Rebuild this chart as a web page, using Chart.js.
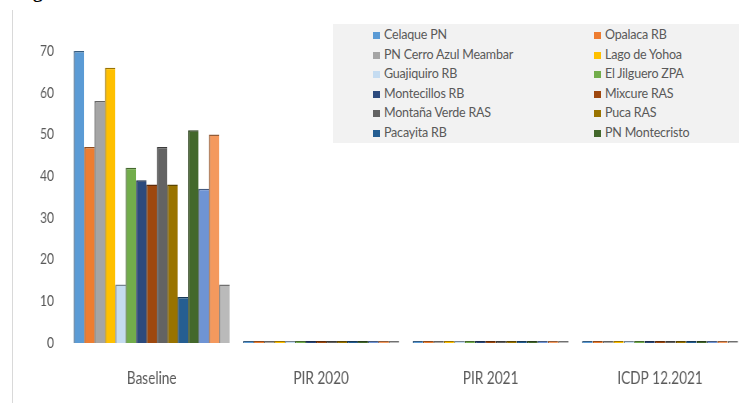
<!DOCTYPE html>
<html>
<head>
<meta charset="utf-8">
<script src="https://cdn.jsdelivr.net/npm/chart.js@4/dist/chart.umd.min.js"></script>
<style>
  html, body { margin: 0; padding: 0; background: #fff; overflow: hidden; }
  #wrap { position: relative; width: 739px; height: 403px; overflow: hidden; }
  #caption {
    position: absolute; left: 33px; top: -19px;
    font: bold 19px "Liberation Serif", serif; color: #000; white-space: nowrap;
  }
  #frame { position: absolute; left: 12px; top: 10px; width: 1px; height: 400px; background: #d9d9d9; }
  /* the picture is squeezed sideways, so the chart is drawn wider and scaled */
  #chartBox {
    position: absolute; left: -4px; top: 0; width: 936px; height: 403px;
    transform: scaleX(0.8); transform-origin: 0 0;
  }
  #legend {
    position: absolute; left: 333px; top: 24px; width: 420px; height: 119px;
    background: #f2f2f2;
  }
  .lg-item {
    position: absolute; font: 12.5px Lato, sans-serif; letter-spacing: -0.2px;
    color: #595959; white-space: nowrap; line-height: 16px;
  }
  .lg-item span { display: inline-block; width: 7px; height: 7px; margin-right: 4px; vertical-align: 0px; }
</style>
</head>
<body>
<div id="wrap">
  <div id="caption">gure 8: Data base with indicators</div>
  <div id="frame"></div>
  <div id="chartBox"><canvas id="chart"></canvas></div>
  <div id="legend"></div>
</div>
<script>
// ============================
// DATA
// ============================
const categories = ["Baseline", "PIR 2020", "PIR 2021", "ICDP 12.2021"];

const seriesNames = [
    "Celaque PN", "Opalaca RB", "PN Cerro Azul Meambar", "Lago de Yohoa",
    "Guajiquiro RB", "El Jilguero ZPA", "Montecillos RB", "Mixcure RAS",
    "Montaña Verde RAS", "Puca RAS", "Pacayita RB", "PN Montecristo",
    "Series 13", "Series 14", "Series 15"
];

// one value per category (Baseline, PIR 2020, PIR 2021, ICDP 12.2021)
const celaque      = [70, 0, 0, 0];
const opalaca      = [47, 0, 0, 0];
const cerroAzul    = [58, 0, 0, 0];
const lagoYohoa    = [66, 0, 0, 0];
const guajiquiro   = [14, 0, 0, 0];
const jilguero     = [42, 0, 0, 0];
const montecillos  = [39, 0, 0, 0];
const mixcure      = [38, 0, 0, 0];
const montanaVerde = [47, 0, 0, 0];
const puca         = [38, 0, 0, 0];
const pacayita     = [11, 0, 0, 0];
const montecristo  = [51, 0, 0, 0];
const series13     = [37, 0, 0, 0];
const series14     = [50, 0, 0, 0];
const series15     = [14, 0, 0, 0];

const yTicks = [0, 10, 20, 30, 40, 50, 60, 70];

const seriesValues = [
    celaque, opalaca, cerroAzul, lagoYohoa, guajiquiro, jilguero, montecillos,
    mixcure, montanaVerde, puca, pacayita, montecristo, series13, series14, series15
];

const colors = [
    "#5b9bd5", "#ed7d31", "#a5a5a5", "#ffc000", "#c5dcf1", "#72ad4b",
    "#2c4a7d", "#9e480e", "#636363", "#997300", "#255e91", "#43682b",
    "#6f94d4", "#f4995e", "#bababa"
];

// legend in the picture only shows the first 12 entries
const legendCount = 12;

// horizontal squeeze applied to the chart box (see css)
const squeeze = 0.8;

// darker shade for the bevelled top/left edge of each bar
function shade(hex, f) {
    const n = parseInt(hex.slice(1), 16);
    const r = Math.round(((n >> 16) & 255) * f);
    const g = Math.round(((n >> 8) & 255) * f);
    const b = Math.round((n & 255) * f);
    return "rgb(" + r + "," + g + "," + b + ")";
}

document.addEventListener("DOMContentLoaded", () => {

    // ============================
    // BAR CHART
    // ============================
    const datasets = seriesValues.map((vals, i) => ({
        label: seriesNames[i],
        data: vals,
        backgroundColor: colors[i],
        borderColor: shade(colors[i], 0.6),
        borderWidth: { top: 1.5, left: 1.5, right: 0, bottom: 0 },
        borderSkipped: false,
        minBarLength: 2,
        barPercentage: 1.0,
        categoryPercentage: 0.92
    }));

    const labelFont = "Lato, 'Open Sans', sans-serif";

    new Chart(document.getElementById("chart"), {
        type: "bar",
        data: { labels: categories, datasets: datasets },
        options: {
            responsive: true,
            maintainAspectRatio: false,
            animation: false,
            layout: { padding: { top: 51, right: 0, bottom: 0, left: 0 } },
            plugins: {
                legend: { display: false },
                tooltip: { enabled: false }
            },
            scales: {
                x: {
                    grid: { display: false, drawTicks: false },
                    border: { display: false },
                    ticks: {
                        padding: 25,
                        color: "#595959",
                        font: { family: labelFont, size: 17 }
                    },
                    afterFit: s => { s.height = 60; }
                },
                y: {
                    min: yTicks[0],
                    max: yTicks[yTicks.length - 1],
                    afterBuildTicks: s => { s.ticks = yTicks.map(v => ({ value: v })); },
                    grid: { display: false, drawTicks: false },
                    border: { display: false },
                    ticks: {
                        padding: 13 / squeeze,
                        color: "#595959",
                        font: { family: labelFont, size: 15 }
                    },
                    afterFit: s => { s.width = 71 / squeeze; }
                }
            }
        }
    });

    // ============================
    // LEGEND (two columns)
    // ============================
    const legend = document.getElementById("legend");
    for (let i = 0; i < legendCount; i++) {
        const col = i % 2;
        const row = Math.floor(i / 2);
        const item = document.createElement("div");
        item.className = "lg-item";
        item.style.left = (col === 0 ? 40 : 261) + "px";
        item.style.top = (3 + row * 19.6) + "px";
        item.innerHTML = '<span style="background:' + colors[i] + '"></span>' + seriesNames[i];
        legend.appendChild(item);
    }
});
</script>
</body>
</html>
